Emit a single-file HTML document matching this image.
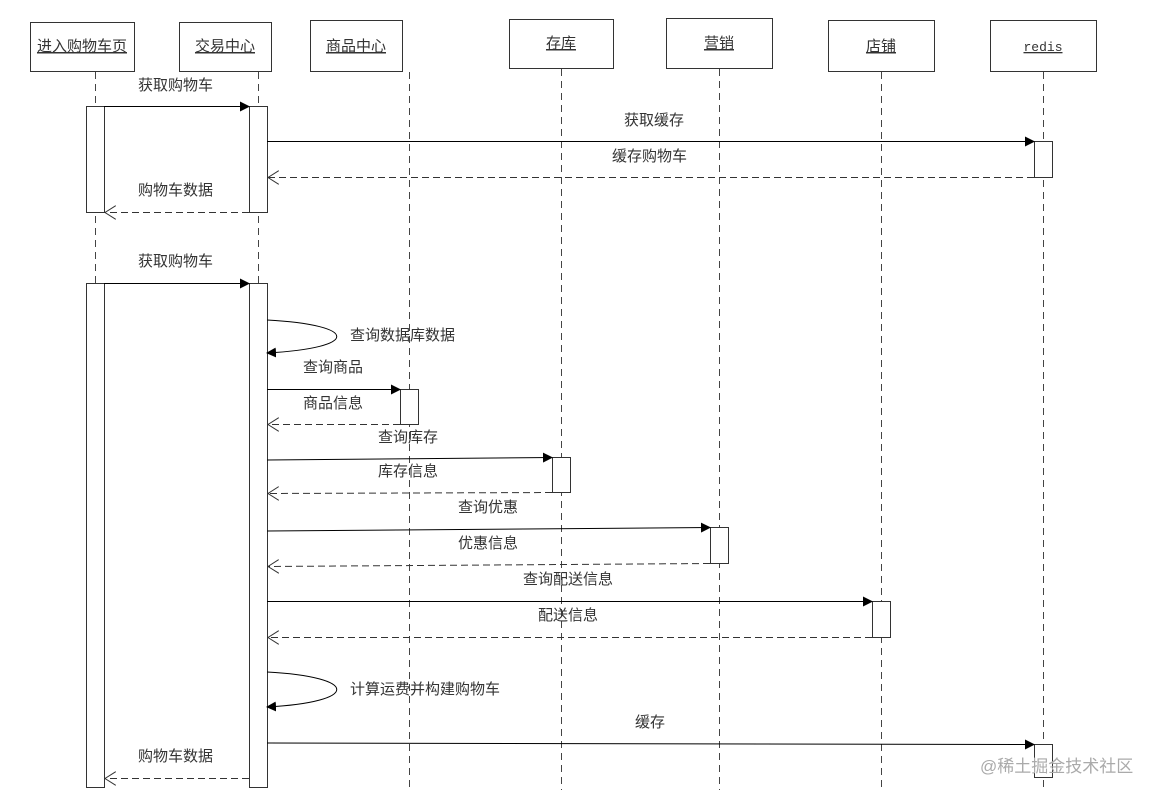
<!DOCTYPE html>
<html><head><meta charset="utf-8"><style>html,body{margin:0;padding:0;background:#fff;}svg{display:block}text{font-family:"Liberation Sans","Noto Sans CJK SC",sans-serif;font-size:15px;fill:#333}</style></head>
<body>
<svg width="1164" height="799" viewBox="0 0 1164 799" xmlns="http://www.w3.org/2000/svg">
<defs>
<marker id="f" markerWidth="10" markerHeight="10" refX="9" refY="5" orient="auto" markerUnits="userSpaceOnUse"><path d="M0,0 L10,5 L0,10 z" fill="#000"/></marker>
<marker id="o" markerWidth="12" markerHeight="14" refX="11" refY="7" orient="auto" markerUnits="userSpaceOnUse"><path d="M0,0 L11,7 L0,14" fill="none" stroke="#333"/></marker>
</defs>
<g stroke="#333" fill="#fff" stroke-width="1">
<rect x="30.5" y="22.5" width="104" height="49"/>
<rect x="179.5" y="22.5" width="92" height="49"/>
<rect x="310.5" y="20.5" width="92" height="51"/>
<rect x="509.5" y="19.5" width="104" height="49"/>
<rect x="666.5" y="18.5" width="106" height="50"/>
<rect x="828.5" y="20.5" width="106" height="51"/>
<rect x="990.5" y="20.5" width="106" height="51"/>
</g>
<g stroke="#444" stroke-dasharray="7,5" stroke-width="1">
<line x1="95.5" y1="72" x2="95.5" y2="790"/>
<line x1="258.5" y1="72" x2="258.5" y2="790"/>
<line x1="409.5" y1="72" x2="409.5" y2="790"/>
<line x1="561.5" y1="69" x2="561.5" y2="790"/>
<line x1="719.5" y1="69" x2="719.5" y2="790"/>
<line x1="881.5" y1="72" x2="881.5" y2="790"/>
<line x1="1043.5" y1="72" x2="1043.5" y2="790"/>
</g>
<g text-anchor="middle">
<text x="82" y="51" text-decoration="underline">进入购物车页</text>
<text x="225" y="51" text-decoration="underline">交易中心</text>
<text x="356" y="51" text-decoration="underline">商品中心</text>
<text x="561" y="48" text-decoration="underline">存库</text>
<text x="719" y="48" text-decoration="underline">营销</text>
<text x="881" y="51" text-decoration="underline">店铺</text>
<text x="1043" y="51" text-decoration="underline" style="font-family:'Liberation Mono',monospace;font-size:13px">redis</text>
</g>
<g stroke="#333" fill="#fff">
<rect x="86.5" y="106.5" width="18" height="106"/>
<rect x="249.5" y="106.5" width="18" height="106"/>
<rect x="1034.5" y="141.5" width="18" height="36"/>
<rect x="86.5" y="283.5" width="18" height="504"/>
<rect x="249.5" y="283.5" width="18" height="504"/>
<rect x="400.5" y="389.5" width="18" height="35"/>
<rect x="552.5" y="457.5" width="18" height="35"/>
<rect x="710.5" y="527.5" width="18" height="36"/>
<rect x="872.5" y="601.5" width="18" height="36"/>
<rect x="1034.5" y="744.5" width="18" height="33"/>
</g>
<g stroke="#000" fill="none">
<line x1="104" y1="106.5" x2="249" y2="106.5" marker-end="url(#f)"/>
<line x1="267" y1="141.5" x2="1034" y2="141.5" marker-end="url(#f)"/>
<line x1="104" y1="283.5" x2="249" y2="283.5" marker-end="url(#f)"/>
<path d="M267,320 C360,325 360,348 267,353" marker-end="url(#f)"/>
<line x1="267" y1="389.5" x2="400" y2="389.5" marker-end="url(#f)"/>
<line x1="267" y1="460" x2="552" y2="457.5" marker-end="url(#f)"/>
<line x1="267" y1="531" x2="710" y2="527.5" marker-end="url(#f)"/>
<line x1="267" y1="601.5" x2="872" y2="601.5" marker-end="url(#f)"/>
<path d="M267,672 C360,677 360,702 267,707" marker-end="url(#f)"/>
<line x1="267" y1="743" x2="1034" y2="744.5" marker-end="url(#f)"/>
</g>
<g stroke="#333" fill="none" stroke-dasharray="7,4">
<line x1="1034" y1="177.5" x2="268" y2="177.5" marker-end="url(#o)"/>
<line x1="249" y1="212.5" x2="105" y2="212.5" marker-end="url(#o)"/>
<line x1="400" y1="424.5" x2="268" y2="424.5" marker-end="url(#o)"/>
<line x1="552" y1="492.5" x2="268" y2="493.5" marker-end="url(#o)"/>
<line x1="710" y1="563.5" x2="268" y2="566.5" marker-end="url(#o)"/>
<line x1="872" y1="637.5" x2="268" y2="637.5" marker-end="url(#o)"/>
<line x1="249" y1="778.5" x2="105" y2="778.5" marker-end="url(#o)"/>
</g>
<g>
<text x="138" y="90">获取购物车</text>
<text x="624" y="125">获取缓存</text>
<text x="612" y="161">缓存购物车</text>
<text x="138" y="195">购物车数据</text>
<text x="138" y="266">获取购物车</text>
<text x="350" y="340">查询数据库数据</text>
<text x="303" y="372">查询商品</text>
<text x="303" y="408">商品信息</text>
<text x="378" y="442">查询库存</text>
<text x="378" y="476">库存信息</text>
<text x="458" y="512">查询优惠</text>
<text x="458" y="548">优惠信息</text>
<text x="523" y="584">查询配送信息</text>
<text x="538" y="620">配送信息</text>
<text x="350" y="694">计算运费并构建购物车</text>
<text x="635" y="727">缓存</text>
<text x="138" y="761">购物车数据</text>
<text x="980" y="772" style="font-size:17px;fill:#aaa">@稀土掘金技术社区</text>
</g>
</svg>
</body></html>
